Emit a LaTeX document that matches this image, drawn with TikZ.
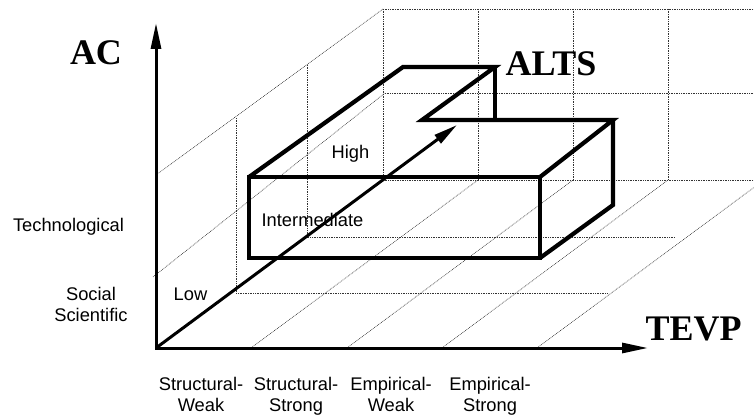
\documentclass[tikz,border=0pt]{standalone}
\usepackage{fontspec}
\setmainfont{Liberation Serif}
\setsansfont{Liberation Sans}
\usetikzlibrary{arrows.meta}
\begin{document}
\begin{tikzpicture}[x=1pt,y=-1pt,
  gridline/.style={line width=0.6pt, dash pattern=on 0.8pt off 0.9pt, black!80},
  boxline/.style={line width=4.2pt, line join=miter},
  axisline/.style={line width=3pt, line join=miter},
  lbl/.style={font=\sffamily\fontsize{18.3}{20.5}\selectfont, inner sep=0pt, anchor=base},
  big/.style={font=\rmfamily\bfseries\fontsize{36}{40}\selectfont, inner sep=0pt, anchor=base}]
\useasboundingbox (0,0) rectangle (754,419);

% ---- coordinates
\coordinate (O) at (156,348);
\coordinate (Ytip) at (156,23);
\coordinate (Xtip) at (648,348);
\coordinate (Dtip) at (457,125);

% ---- dotted grid: back plane
\draw[gridline] (383,9) -- (754,9);
\draw[gridline] (385,93) -- (754,93);
\draw[gridline] (383,180) -- (754,180);
\foreach \x in {383,478,573,668} \draw[gridline] (\x,9) -- (\x,180);
% left wall
\draw[gridline] (156,175) -- (383,9);
\draw[gridline] (153,277) -- (385,93);
% intermediate depth planes
\draw[gridline] (236,118) -- (236,293) -- (607,293);
\draw[gridline] (307,65) -- (307,237) -- (675,237);
% floor
\draw[gridline] (251,348) -- (478,180);
\draw[gridline] (347,348) -- (573,180);
\draw[gridline] (442,348) -- (668,180);
\draw[gridline] (537,348) -- (754,187.4);

% ---- box
\draw[boxline] (249,177) rectangle (540,258);
\draw[boxline] (249,177) -- (403,67) -- (495,67) -- (422,120) -- (613,120) -- (540,177);
\draw[boxline] (495,67) -- (495,120);
\draw[boxline] (613,120) -- (613,205) -- (540,258);

% ---- axes
\draw[axisline, {Triangle[length=26pt,width=10pt]}-{Triangle[length=26pt,width=10pt]}] (Ytip) -- (O) -- (Xtip);
\draw[line width=3pt, -{Triangle[length=24pt,width=10pt]}] (O) -- (Dtip);

% ---- labels
\node[big] (ac) at (96,65) {AC};
\node[big] (alts) at (551,76) {ALTS};
\node[big] (tevp) at (693.5,340) {TEVP};
\node[lbl] (high) at (350.5,159) {High};
\node[lbl] (inter) at (312.5,227) {Intermediate};
\node[lbl] (low) at (190.5,300) {Low};
\node[lbl] (tech) at (68.5,232) {Technological};
\node[lbl] (soc) at (91,321) {\begin{tabular}[b]{@{}c@{}}Social\\Scientific\end{tabular}};
\node[lbl] (sw) at (201,411) {\begin{tabular}[b]{@{}c@{}}Structural-\\Weak\end{tabular}};
\node[lbl] (ss) at (296,411) {\begin{tabular}[b]{@{}c@{}}Structural-\\Strong\end{tabular}};
\node[lbl] (ew) at (391,411) {\begin{tabular}[b]{@{}c@{}}Empirical-\\Weak\end{tabular}};
\node[lbl] (es) at (490,411) {\begin{tabular}[b]{@{}c@{}}Empirical-\\Strong\end{tabular}};
\end{tikzpicture}
\end{document}
